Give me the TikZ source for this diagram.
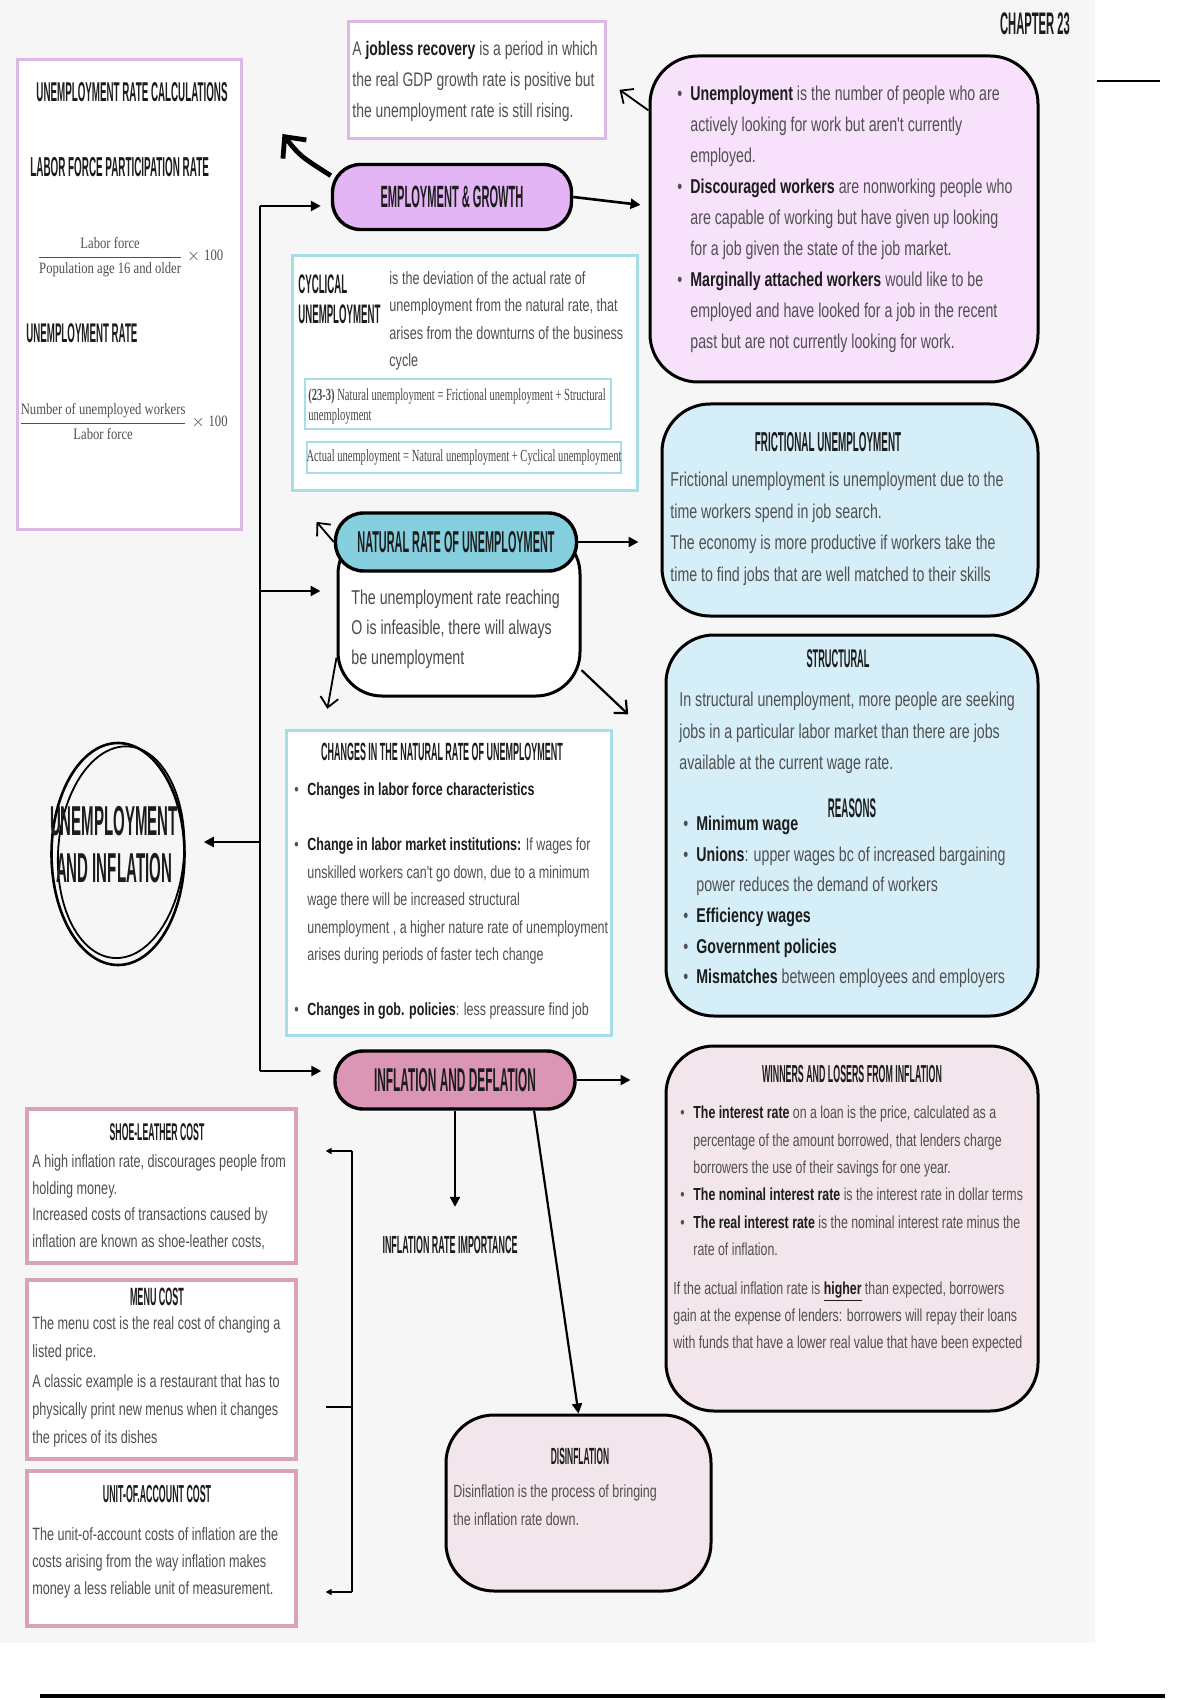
\documentclass[tikz,border=0pt]{standalone}
\usepackage{fontspec}
\usepackage{amsmath}
\usetikzlibrary{arrows.meta, positioning, shapes.geometric, fit, calc}
\setmainfont{Liberation Sans}
\newfontfamily\bodyfont[FakeStretch=0.71]{Liberation Sans}
\newfontfamily\headfont[FakeStretch=0.36]{Liberation Sans}
\newfontfamily\eqfont[FakeStretch=0.8]{Liberation Serif}
\newfontfamily\eqnfont[FakeStretch=0.62]{Liberation Serif}
\newcommand\fs[2]{\fontsize{#1}{#2}\selectfont}
\newcommand\kw[1]{{\bfseries\color{ink}#1}}
\newcommand\bul{\makebox[6.5pt][l]{\textbullet}}
\newcommand\ind{\hspace*{6.5pt}}
\definecolor{ink}{HTML}{1C1C1C}
\definecolor{txt}{HTML}{505050}
\definecolor{bg}{HTML}{F6F6F6}
\definecolor{lav}{HTML}{DCB8E6}
\definecolor{cyanl}{HTML}{A6DDE6}
\definecolor{rosel}{HTML}{D8A3B9}
\definecolor{empf}{HTML}{E3B5F5}
\definecolor{defsf}{HTML}{F7E1FB}
\definecolor{natf}{HTML}{86CFDF}
\definecolor{bluef}{HTML}{D6EEF8}
\definecolor{inff}{HTML}{DB95B5}
\definecolor{winf}{HTML}{F3E5EC}
\tikzset{
  lbox/.style ={draw=lav, line width=1.5pt, fill=white, inner sep=0pt},
  cbox/.style ={draw=cyanl, line width=1.5pt, fill=white, inner sep=0pt},
  pbox/.style ={draw=rosel, line width=1.6pt, fill=white, inner sep=0pt},
  rbox/.style ={draw=black, line width=1.5pt, rounded corners=24pt, inner sep=0pt},
  pill/.style ={draw=black, line width=1.7pt, rounded corners=14pt, inner sep=0pt, text=ink, font=\headfont\bfseries\fs{#1}{#1}},
  hd/.style   ={inner sep=0pt, text=ink, font=\headfont\bfseries\fs{#1}{#1}},
  tx/.style 2 args={anchor=west, align=left, inner sep=0pt, text=txt, font=\bodyfont\fs{#1}{#2}},
  frac/.style ={inner sep=0pt, text=txt, font=\eqfont\fs{7.9}{10}},
  eqt/.style  ={inner sep=0pt, text=txt!90!black, align=left, font=\eqnfont\fs{8.5}{10}},
  fl/.style   ={-{Triangle[length=5pt, width=5pt]}, line width=1.3pt},
  ol/.style   ={-{Straight Barb[length=5pt, width=9pt]}, line width=0.9pt},
  big/.style  ={-{Straight Barb[length=8pt, width=15pt]}, line width=2.4pt},
  tip/.style  ={-{Triangle[length=3pt, width=3pt]}, line width=1pt},
}
\begin{document}
\begin{tikzpicture}[x=0.5pt, y=-0.5pt]
  \useasboundingbox (0,0) rectangle (1200,1700);
  \fill[bg] (0,0) rectangle (1095,1643);
  \fill[white] (1095,0) rectangle (1200,1700);

  % header
  \node[hd=15.6] (chap) at (1035,24) {CHAPTER 23};
  \coordinate (rA) at (1097,81);
  \coordinate (rB) at (1160,81);
  \draw[line width=1.3pt] (rA) -- (rB);
  \coordinate (fA) at (40,1696);
  \coordinate (fB) at (1165,1696);
  \draw[line width=2pt] (fA) -- (fB);

  % calculations
  \node[lbox, fit={(17,60) (241,529)}] (calc) {};
  \node[hd=13.6] (calct) at (132,92) {UNEMPLOYMENT RATE CALCULATIONS};
  \node[hd=13.7, anchor=west] (lfpr) at (30,167) {LABOR FORCE PARTICIPATION RATE};
  \node[frac] (f1) at (130,257) {$\dfrac{\strut\mbox{Labor force}}{\strut\mbox{Population age 16 and older}}\times\mbox{100}$};
  \node[hd=13.5, anchor=west] (urt) at (26,333) {UNEMPLOYMENT RATE};
  \node[frac] (f2) at (123,423) {$\dfrac{\strut\mbox{Number of unemployed workers}}{\strut\mbox{Labor force}}\times\mbox{100}$};

  % employment & growth
  \node[lbox, fit={(348,22) (605,139)}] (job) {};
  \node[tx={9.8}{15.5}] (jobt) at (352,81) {A \kw{jobless recovery} is a period in which\\the real GDP growth rate is positive but\\the unemployment rate is still rising.};
  \node[pill=15.4, fill=empf, minimum width=119.5pt, minimum height=32.5pt] (emp) at (452,197) {EMPLOYMENT \& GROWTH};
  \node[rbox, fill=defsf, fit={(650,56) (1038,382)}] (defs) {};
  \node[tx={10}{15.5}] (defst) at (677,219) {\bul\kw{Unemployment} is the number of people who are\\
    \ind actively looking for work but aren't currently\\
    \ind employed.\\
    \bul\kw{Discouraged workers} are nonworking people who\\
    \ind are capable of working but have given up looking\\
    \ind for a job given the state of the job market.\\
    \bul\kw{Marginally attached workers} would like to be\\
    \ind employed and have looked for a job in the recent\\
    \ind past but are not currently looking for work.};

  % cyclical
  \node[cbox, fit={(292,256) (637,490)}] (cyc) {};
  \node[hd=13.4, anchor=west, align=left] (cyct) at (298,299) {CYCLICAL\\[1.6pt]UNEMPLOYMENT};
  \node[tx={8.9}{13.7}] (cycd) at (389,321) {is the deviation of the actual rate of\\unemployment from the natural rate, that\\arises from the downturns of the business\\cycle};
  \node[cbox, line width=1.1pt, fit={(305,379) (611,429)}] (eq1) {};
  \node[eqt, anchor=west] (eq1t) at (308,406) {\textbf{(23-3)} Natural unemployment = Frictional unemployment + Structural\\unemployment};
  \node[cbox, line width=1.1pt, fit={(307,442) (621,473)}] (eq2) {};
  \node[eqt] (eq2t) at (464,457) {Actual unemployment = Natural unemployment + Cyclical unemployment};

  % natural rate
  \node[rbox, fill=white, rounded corners=22pt, fit={(338,530) (580,696)}] (natbox) {};
  \node[pill=15.1, fill=natf, minimum width=120.5pt, minimum height=29pt] (nat) at (456,542) {NATURAL RATE OF UNEMPLOYMENT};
  \node[tx={10}{15}, text=ink!80] (natt) at (351,629) {The unemployment rate reaching\\O is infeasible, there will always\\be unemployment};

  \node[rbox, fill=bluef, fit={(662,404) (1038,616)}] (fric) {};
  \node[hd=13.7] (frict) at (828,442) {FRICTIONAL UNEMPLOYMENT};
  \node[tx={10}{15.8}] (fricd) at (670,529) {Frictional unemployment is unemployment due to the\\time workers spend in job search.\\The economy is more productive if workers take the\\time to find jobs that are well matched to their skills};

  \node[rbox, fill=bluef, fit={(666,635) (1038,1016)}] (struct) {};
  \node[hd=12.8] (structt) at (838,659) {STRUCTURAL};
  \node[tx={10}{15.75}] (structd) at (679,733) {In structural unemployment, more people are seeking\\jobs in a particular labor market than there are jobs\\available at the current wage rate.};
  \node[hd=13.5] (reas) at (852,808) {REASONS};
  \node[tx={10}{15.3}] (reasl) at (683,902) {\bul\kw{Minimum wage}\\
    \bul\kw{Unions}: upper wages bc of increased bargaining\\
    \ind power reduces the demand of workers\\
    \bul\kw{Efficiency wages}\\
    \bul\kw{Government policies}\\
    \bul\kw{Mismatches} between employees and employers};

  \node[cbox, fit={(286,730) (611,1035)}] (chg) {};
  \node[hd=12.45] (chgt) at (442,752) {CHANGES IN THE NATURAL RATE OF UNEMPLOYMENT};
  \node[tx={8.8}{13.75}] (chgl) at (294,901) {\bul\kw{Changes in labor force characteristics}\\[13.75pt]
    \bul\kw{Change in labor market institutions:} If wages for\\
    \ind unskilled workers can't go down, due to a minimum\\
    \ind wage there will be increased structural\\
    \ind unemployment , a higher nature rate of unemployment\\
    \ind arises during periods of faster tech change\\[13.75pt]
    \bul\kw{Changes in gob. policies}: less preassure find job};

  % centre
  \node[ellipse, draw, line width=1.3pt, minimum width=66.5pt, minimum height=111pt, inner sep=0pt] (core) at (118,854) {};
  \draw[line width=0.9pt, rotate around={-4:(core.center)}] ([shift={(3,-2)}]core.center) ellipse [x radius=31.5pt, y radius=53pt];
  \node[hd=20.9, align=center] (coret) at (114,845) {UNEMPLOYMENT\\[2.6pt]AND INFLATION};

  % inflation
  \node[pill=16.5, fill=inff, minimum width=120pt, minimum height=29pt] (inf) at (455,1080) {INFLATION AND DEFLATION};
  \node[hd=12.4] (imp) at (450,1245) {INFLATION RATE IMPORTANCE};

  \node[rbox, fill=winf, fit={(666,1046) (1038,1411)}] (win) {};
  \node[hd=12.3] (wint) at (852,1074) {WINNERS AND LOSERS FROM INFLATION};
  \node[tx={8.7}{13.7}] (winl) at (680,1181) {\bul\kw{The interest rate} on a loan is the price, calculated as a\\
    \ind percentage of the amount borrowed, that lenders charge\\
    \ind borrowers the use of their savings for one year.\\
    \bul\kw{The nominal interest rate} is the interest rate in dollar terms\\
    \bul\kw{The real interest rate} is the nominal interest rate minus the\\
    \ind rate of inflation.};
  \node[tx={8.7}{13.5}] (winp) at (673,1317) {If the actual inflation rate is \kw{\underline{higher}} than expected, borrowers\\gain at the expense of lenders: borrowers will repay their loans\\with funds that have a lower real value that have been expected};

  \node[rbox, fill=winf, fit={(446,1415) (711,1591)}] (dis) {};
  \node[hd=11.7] (dist) at (580,1456) {DISINFLATION};
  \node[tx={8.8}{14}] (disd) at (453,1505) {Disinflation is the process of bringing\\the inflation rate down.};

  \node[pbox, fit={(27,1109) (296,1263)}] (shoe) {};
  \node[hd=12.1] (shoet) at (157,1132) {SHOE-LEATHER COST};
  \node[tx={8.9}{13.3}] (shoed) at (32,1202) {A high inflation rate, discourages people from\\holding money.\\Increased costs of transactions caused by\\inflation are known as shoe-leather costs,};
  \node[pbox, fit={(27,1280) (296,1459)}] (menu) {};
  \node[hd=12.5] (menut) at (157,1297) {MENU COST};
  \node[tx={8.9}{14}] (menud) at (32,1382) {The menu cost is the real cost of changing a\\listed price.\\[1pt]A classic example is a restaurant that has to\\physically print new menus when it changes\\the prices of its dishes};
  \node[pbox, fit={(27,1471) (296,1626)}] (unit) {};
  \node[hd=12.3] (unitt) at (157,1494) {UNIT-OF.ACCOUNT COST};
  \node[tx={8.9}{13.5}] (unitd) at (32,1563) {The unit-of-account costs of inflation are the\\costs arising from the way inflation makes\\money a less reliable unit of measurement.};

  % connectors
  \coordinate (tTop) at (260,206);
  \coordinate (tNat) at (260,591);
  \coordinate (tMid) at (260,842);
  \coordinate (tBot) at (260,1071);
  \draw[line width=1.3pt] (tTop) -- (tBot);
  \draw[fl, shorten >=5pt] (tTop) -- (tTop -| emp.west);
  \draw[fl, shorten >=8pt] (tNat) -- (tNat -| natbox.west);
  \draw[fl, shorten >=6pt] (tBot) -- (tBot -| inf.west);
  \draw[fl, shorten >=9pt] (tMid) -- (tMid -| core.east);

  \coordinate (bigEnd) at ($(calc.north east)!0.16!(calc.south east)+(40,0)$);
  \draw[big] (emp.170) .. controls (300,156) .. (bigEnd);
  \draw[fl, shorten >=4pt] (emp.east) -- ($(defs.north west)!0.46!(defs.south west)$);
  \draw[ol, shorten >=8pt] ($(defs.north west)!0.17!(defs.south west)$) -- (job.east);

  \draw[ol, shorten >=20pt] (nat.west) -- (cyc.south west);
  \draw[ol, shorten >=10pt] (natbox.200) -- ($(chg.north west)!0.12!(chg.north east)$);
  \draw[fl, shorten >=11pt] (nat.east) -- (nat.east -| fric.west);
  \draw[ol, line width=1.1pt, shorten >=25pt] (natbox.335) -- ($(struct.north west)!0.3!(struct.south west)$);

  \draw[fl, shorten >=17pt] (inf.east) -- (inf.east -| win.west);
  \draw[fl, line width=1.1pt, shorten >=14.5pt] (inf.south) -- (inf.south |- imp.north);
  \draw[fl, line width=1.1pt] ($(inf.south)!0.65!(inf.south east)$) -- (dis.north);

  \coordinate (bTop) at (352,1151);
  \coordinate (bMid) at (352,1407);
  \coordinate (bBot) at (352,1592);
  \draw[line width=1pt] (bTop) -- (bBot);
  \draw[tip, shorten >=14pt] (bTop) -- (bTop -| shoe.east);
  \draw[line width=1pt, shorten >=14pt] (bMid) -- (bMid -| menu.east);
  \draw[tip, shorten >=14pt] (bBot) -- (bBot -| unit.east);
\end{tikzpicture}
\end{document}
